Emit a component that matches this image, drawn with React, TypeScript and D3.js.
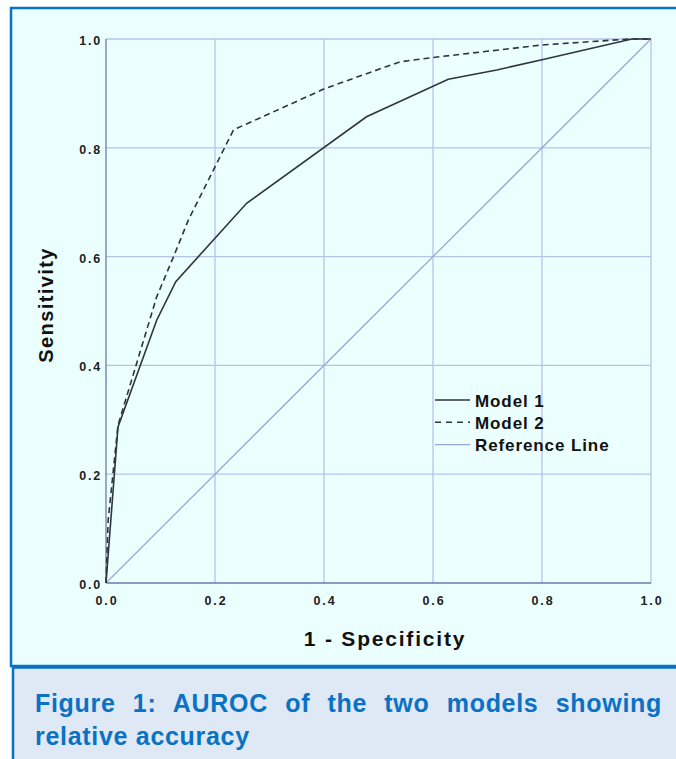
import { useEffect, useRef } from "react";
import * as d3 from "d3";

// ROC curve points
const model1Fpr = [0, 0.022, 0.093, 0.128, 0.258, 0.478, 0.628, 0.717, 0.8, 0.965, 1.0];
const model1Tpr = [0, 0.287, 0.483, 0.554, 0.698, 0.857, 0.926, 0.943, 0.962, 1.0, 1.0];

const model2Fpr = [0, 0.004, 0.022, 0.093, 0.124, 0.151, 0.203, 0.234, 0.402, 0.539, 0.6, 0.8, 0.96, 1.0];
const model2Tpr = [0, 0.116, 0.29, 0.526, 0.6, 0.667, 0.771, 0.833, 0.909, 0.958, 0.966, 0.989, 1.0, 1.0];

const refFpr = [0, 1];
const refTpr = [0, 1];

const ticks = [0, 0.2, 0.4, 0.6, 0.8, 1.0];
const legendLabels = ["Model 1", "Model 2", "Reference Line"];
const captionLines = ["Figure 1: AUROC of the two models showing", "relative accuracy"];

export default function App() {
  const svgRef = useRef(null);

  useEffect(() => {
    const width = 676;
    const height = 759;
    const plot = { left: 106, right: 651, top: 39, bottom: 583 };
    const font = "'Liberation Sans', Arial, sans-serif";
    const blue = "#0a72c4";

    const svg = d3.select(svgRef.current).attr("width", width).attr("height", height);
    svg.selectAll("*").remove();

    // panel + caption boxes
    svg.append("rect").attr("x", 11).attr("y", 8).attr("width", 700).attr("height", 658)
      .attr("fill", "#ebfffe").attr("stroke", blue).attr("stroke-width", 2.5);
    svg.append("rect").attr("x", 13).attr("y", 667.5).attr("width", 700).attr("height", 120)
      .attr("fill", "#dfe8f5").attr("stroke", blue).attr("stroke-width", 2.5);

    const x = d3.scaleLinear().domain([0, 1]).range([plot.left, plot.right]);
    const y = d3.scaleLinear().domain([0, 1]).range([plot.bottom, plot.top]);

    // grid
    const grid = svg.append("g").attr("stroke", "#b6c3e8").attr("stroke-width", 1.3);
    grid.selectAll(".gx").data(ticks.slice(1)).enter().append("line")
      .attr("x1", (d) => x(d)).attr("x2", (d) => x(d))
      .attr("y1", y(0)).attr("y2", y(1));
    grid.selectAll(".gy").data(ticks.slice(1)).enter().append("line")
      .attr("x1", x(0)).attr("x2", x(1))
      .attr("y1", (d) => y(d)).attr("y2", (d) => y(d));

    // axes lines
    svg.append("line").attr("x1", x(0)).attr("x2", x(0)).attr("y1", y(0)).attr("y2", y(1))
      .attr("stroke", "#6e78a8").attr("stroke-width", 1.3);
    svg.append("line").attr("x1", x(0)).attr("x2", x(1)).attr("y1", y(0)).attr("y2", y(0))
      .attr("stroke", "#6e78a8").attr("stroke-width", 1.3);

    // tick labels
    svg.selectAll(".ty").data(ticks).enter().append("text")
      .attr("x", x(0) - 4).attr("y", (d) => y(d) + 6)
      .attr("text-anchor", "end")
      .style("font-family", font).style("font-weight", "bold").style("font-size", "12.5px")
      .style("letter-spacing", "1.8px").attr("fill", "#222")
      .text((d) => d3.format(".1f")(d));
    svg.selectAll(".tx").data(ticks).enter().append("text")
      .attr("x", (d) => x(d) + 1).attr("y", 605)
      .attr("text-anchor", "middle")
      .style("font-family", font).style("font-weight", "bold").style("font-size", "12.5px")
      .style("letter-spacing", "1.8px").attr("fill", "#222")
      .text((d) => d3.format(".1f")(d));

    // axis titles
    svg.append("text").attr("x", 385).attr("y", 646).attr("text-anchor", "middle")
      .style("font-family", font).style("font-weight", "bold").style("font-size", "21px")
      .style("letter-spacing", "1.8px").attr("fill", "#111")
      .text("1 - Specificity");
    svg.append("text").attr("transform", "translate(53, 305) rotate(-90)").attr("text-anchor", "middle")
      .style("font-family", font).style("font-weight", "bold").style("font-size", "20px")
      .style("letter-spacing", "1.4px").attr("fill", "#111")
      .text("Sensitivity");

    const line = d3.line<number>().x((d) => x(d[0])).y((d) => y(d[1]));

    svg.append("path").datum(d3.zip(refFpr, refTpr)).attr("d", line)
      .attr("fill", "none").attr("stroke", "#9aa7d6").attr("stroke-width", 1.3);
    svg.append("path").datum(d3.zip(model2Fpr, model2Tpr)).attr("d", line)
      .attr("fill", "none").attr("stroke", "#2f3440").attr("stroke-width", 1.6)
      .attr("stroke-dasharray", "6,4");
    svg.append("path").datum(d3.zip(model1Fpr, model1Tpr)).attr("d", line)
      .attr("fill", "none").attr("stroke", "#2f3440").attr("stroke-width", 1.6);

    // legend
    const legendStyles = [
      { stroke: "#2f3440", dash: null },
      { stroke: "#2f3440", dash: "6,5" },
      { stroke: "#9aa7d6", dash: null },
    ];
    const legend = svg.append("g").attr("transform", "translate(435, 400)");
    legendLabels.forEach((label, i) => {
      const g = legend.append("g").attr("transform", `translate(0, ${i * 22.3})`);
      g.append("line").attr("x1", 0).attr("x2", 35).attr("y1", 0).attr("y2", 0)
        .attr("stroke", legendStyles[i].stroke).attr("stroke-width", 1.4)
        .attr("stroke-dasharray", legendStyles[i].dash);
      g.append("text").attr("x", 40).attr("y", 6.5)
        .style("font-family", font).style("font-weight", "bold").style("font-size", "17px")
        .style("letter-spacing", "0.9px").attr("fill", "#111")
        .text(label);
    });

    // caption, first line justified
    const capLeft = 35;
    const capRight = 662;
    captionLines.forEach((txt, i) => {
      const t = svg.append("text").attr("x", capLeft).attr("y", 712 + i * 33)
        .style("font-family", font).style("font-weight", "bold").style("font-size", "25px")
        .style("letter-spacing", "0.7px").attr("fill", blue)
        .text(txt);
      if (i === 0) {
        const node = t.node() as SVGTextElement;
        const len = node.getComputedTextLength();
        const spaces = txt.split(" ").length - 1;
        t.style("word-spacing", `${(capRight - capLeft - len) / spaces}px`);
      }
    });
  }, []);

  return (
    <svg ref={svgRef} style={{ position: "absolute", left: 0, top: 0 }}></svg>
  );
}
